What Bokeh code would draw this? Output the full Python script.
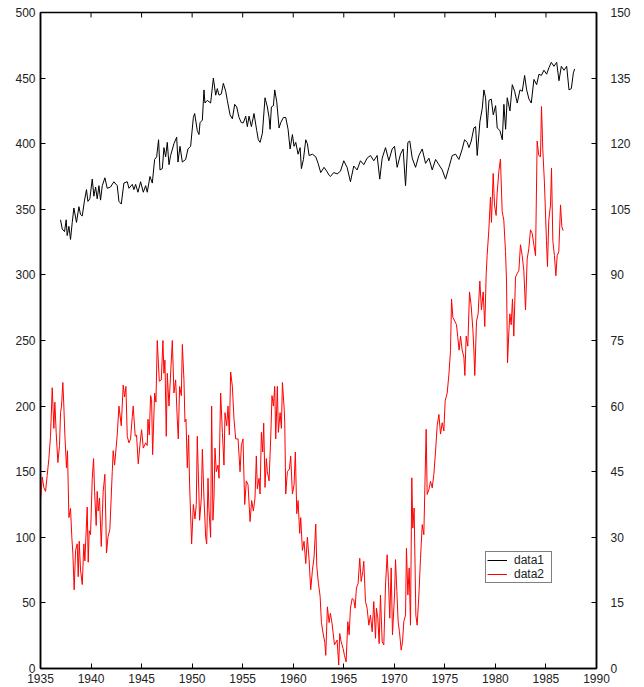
import math
from bokeh.plotting import figure
from bokeh.models import Range1d, LinearAxis, FixedTicker, Legend, LegendItem
from bokeh.embed import file_html
from bokeh.resources import INLINE

# ---- data ----
x_ticks = [1935, 1940, 1945, 1950, 1955, 1960, 1965, 1970, 1975, 1980, 1985, 1990]
left_ticks = [0, 50, 100, 150, 200, 250, 300, 350, 400, 450, 500]
right_ticks = [0, 15, 30, 45, 60, 75, 90, 105, 120, 135, 150]

data1_years = [
    1936.98, 1937.15, 1937.38, 1937.54, 1937.64, 1937.81, 1937.97, 1938.14, 1938.30, 1938.56,
    1938.80, 1938.96, 1939.13, 1939.36, 1939.55, 1939.69, 1939.88, 1940.12, 1940.28, 1940.45,
    1940.61, 1940.78, 1940.94, 1941.11, 1941.37, 1941.60, 1941.93, 1942.26, 1942.59, 1942.76,
    1942.99, 1943.25, 1943.58, 1943.75, 1944.08, 1944.24, 1944.41, 1944.64, 1944.90, 1945.17,
    1945.40, 1945.56, 1945.83, 1946.06, 1946.29, 1946.49, 1946.68, 1946.82, 1947.05, 1947.21,
    1947.38, 1947.54, 1947.71, 1947.87, 1948.20, 1948.47, 1948.60, 1948.80, 1949.03, 1949.36,
    1949.59, 1949.85, 1950.12, 1950.25, 1950.51, 1950.68, 1950.78, 1951.01, 1951.17, 1951.27,
    1951.50, 1951.83, 1952.10, 1952.33, 1952.49, 1952.66, 1952.89, 1953.09, 1953.32, 1953.48,
    1953.75, 1953.98, 1954.21, 1954.41, 1954.64, 1954.87, 1955.07, 1955.30, 1955.46, 1955.63,
    1955.86, 1956.12, 1956.39, 1956.55, 1956.72, 1956.95, 1957.21, 1957.44, 1957.61, 1957.71,
    1957.84, 1958.04, 1958.17, 1958.37, 1958.60, 1958.76, 1959.03, 1959.26, 1959.49, 1959.69,
    1959.92, 1960.08, 1960.25, 1960.48, 1960.68, 1960.81, 1961.01, 1961.24, 1961.40, 1961.57,
    1961.90, 1962.23, 1962.46, 1962.72, 1963.05, 1963.32, 1963.55, 1963.68, 1964.01, 1964.34,
    1964.67, 1965.00, 1965.33, 1965.66, 1965.99, 1966.32, 1966.65, 1966.98, 1967.31, 1967.64,
    1967.97, 1968.30, 1968.56, 1968.80, 1969.13, 1969.46, 1969.79, 1970.02, 1970.28, 1970.61,
    1970.87, 1971.11, 1971.34, 1971.53, 1971.77, 1972.10, 1972.43, 1972.76, 1973.09, 1973.42,
    1973.75, 1974.08, 1974.41, 1974.74, 1975.07, 1975.40, 1975.73, 1976.06, 1976.39, 1976.72,
    1976.95, 1977.21, 1977.38, 1977.61, 1977.87, 1978.04, 1978.20, 1978.47, 1978.70, 1978.86,
    1979.03, 1979.19, 1979.36, 1979.59, 1979.79, 1980.02, 1980.18, 1980.45, 1980.68, 1980.84,
    1981.01, 1981.17, 1981.44, 1981.67, 1981.90, 1982.16, 1982.43, 1982.66, 1982.89, 1983.09,
    1983.32, 1983.55, 1983.81, 1984.08, 1984.31, 1984.54, 1984.80, 1985.07, 1985.30, 1985.53,
    1985.79, 1986.06, 1986.29, 1986.52, 1986.78, 1987.05, 1987.28, 1987.51, 1987.71, 1987.84,
]
data1_values = [
    342, 335, 333, 342, 330, 337, 327, 340, 351, 340,
    352, 346, 345, 357, 365, 356, 358, 373, 360, 367,
    358, 368, 357, 368, 374, 366, 367, 371, 368, 356,
    354, 370, 371, 366, 369, 365, 369, 363, 371, 363,
    368, 363, 375, 370, 388, 390, 403, 380, 381, 397,
    390, 401, 384, 391, 400, 405, 386, 398, 386, 388,
    396, 398, 420, 423, 410, 407, 416, 418, 441, 431,
    433, 431, 450, 437, 442, 437, 438, 446, 440, 433,
    422, 419, 430, 428, 420, 416, 416, 421, 413, 421,
    413, 423, 410, 403, 401, 408, 435, 428, 420, 411,
    428, 429, 441, 432, 412, 416, 420, 420, 411, 396,
    407, 398, 401, 392, 397, 381, 388, 403, 400, 391,
    392, 390, 385, 378, 382, 379, 376, 375, 378, 377,
    379, 387, 382, 371, 383, 380, 387, 384, 389, 391,
    387, 391, 373, 389, 397, 387, 396, 398, 382, 392,
    396, 368, 401, 402, 389, 382, 391, 396, 385, 389,
    380, 388, 384, 380, 373, 382, 391, 392, 388, 396,
    403, 401, 397, 402, 412, 413, 391, 417, 427, 441,
    435, 412, 433, 434, 422, 429, 412, 410, 403, 430,
    411, 435, 425, 445, 440, 431, 441, 440, 452, 441,
    434, 431, 449, 445, 453, 452, 456, 453, 458, 462,
    459, 462, 448, 459, 456, 459, 441, 442, 454, 457,
]

data2_years = [
    1935.00, 1935.17, 1935.33, 1935.50, 1935.66, 1935.83, 1935.99, 1936.16, 1936.32, 1936.42,
    1936.55, 1936.72, 1936.88, 1936.98, 1937.08, 1937.21, 1937.31, 1937.41, 1937.57, 1937.67,
    1937.74, 1937.81, 1937.97, 1938.10, 1938.20, 1938.33, 1938.47, 1938.63, 1938.73, 1938.83,
    1938.96, 1939.13, 1939.29, 1939.39, 1939.49, 1939.62, 1939.72, 1939.82, 1939.95, 1940.12,
    1940.25, 1940.35, 1940.51, 1940.61, 1940.71, 1940.84, 1941.01, 1941.20, 1941.37, 1941.53,
    1941.67, 1941.86, 1942.10, 1942.19, 1942.33, 1942.59, 1942.76, 1942.99, 1943.18, 1943.32,
    1943.45, 1943.58, 1943.75, 1943.91, 1944.08, 1944.17, 1944.37, 1944.50, 1944.67, 1944.83,
    1945.00, 1945.17, 1945.40, 1945.56, 1945.63, 1945.76, 1945.89, 1945.99, 1946.09, 1946.29,
    1946.42, 1946.55, 1946.75, 1946.95, 1947.11, 1947.21, 1947.31, 1947.44, 1947.54, 1947.71,
    1948.04, 1948.20, 1948.37, 1948.53, 1948.63, 1948.76, 1948.93, 1949.03, 1949.19, 1949.29,
    1949.39, 1949.52, 1949.65, 1949.75, 1949.95, 1950.12, 1950.28, 1950.41, 1950.51, 1950.74,
    1950.91, 1951.01, 1951.17, 1951.34, 1951.44, 1951.57, 1951.67, 1951.83, 1951.93, 1952.06,
    1952.16, 1952.26, 1952.39, 1952.56, 1952.66, 1952.82, 1952.99, 1953.15, 1953.25, 1953.42,
    1953.55, 1953.68, 1953.81, 1953.98, 1954.14, 1954.31, 1954.54, 1954.74, 1954.87, 1955.03,
    1955.20, 1955.36, 1955.53, 1955.73, 1955.89, 1956.06, 1956.22, 1956.35, 1956.45, 1956.62,
    1956.72, 1956.85, 1956.98, 1957.08, 1957.21, 1957.34, 1957.44, 1957.61, 1957.77, 1957.90,
    1958.04, 1958.17, 1958.27, 1958.43, 1958.53, 1958.70, 1958.83, 1958.93, 1959.09, 1959.16,
    1959.26, 1959.42, 1959.62, 1959.75, 1959.92, 1960.08, 1960.21, 1960.35, 1960.48, 1960.64,
    1960.74, 1960.91, 1961.07, 1961.24, 1961.40, 1961.57, 1961.73, 1961.90, 1962.06, 1962.23,
    1962.33, 1962.49, 1962.66, 1962.79, 1962.95, 1963.12, 1963.22, 1963.38, 1963.55, 1963.68,
    1963.84, 1964.08, 1964.34, 1964.50, 1964.60, 1964.74, 1964.93, 1965.07, 1965.23, 1965.40,
    1965.53, 1965.66, 1965.83, 1965.99, 1966.12, 1966.25, 1966.42, 1966.58, 1966.72, 1966.88,
    1966.98, 1967.15, 1967.31, 1967.48, 1967.64, 1967.81, 1967.97, 1968.14, 1968.23, 1968.37,
    1968.50, 1968.63, 1968.80, 1968.96, 1969.13, 1969.29, 1969.42, 1969.55, 1969.69, 1969.82,
    1970.02, 1970.12, 1970.25, 1970.38, 1970.51, 1970.68, 1970.81, 1970.94, 1971.11, 1971.20,
    1971.34, 1971.47, 1971.60, 1971.73, 1971.83, 1971.96, 1972.13, 1972.26, 1972.43, 1972.59,
    1972.76, 1972.92, 1973.15, 1973.25, 1973.42, 1973.58, 1973.75, 1973.91, 1974.08, 1974.24,
    1974.41, 1974.57, 1974.74, 1974.90, 1975.03, 1975.23, 1975.40, 1975.56, 1975.66, 1975.79,
    1975.99, 1976.15, 1976.28, 1976.41, 1976.55, 1976.71, 1976.88, 1976.98, 1977.11, 1977.27,
    1977.44, 1977.60, 1977.77, 1977.87, 1977.96, 1978.13, 1978.29, 1978.46, 1978.62, 1978.79,
    1978.95, 1979.09, 1979.18, 1979.35, 1979.51, 1979.61, 1979.78, 1979.91, 1980.07, 1980.17,
    1980.34, 1980.50, 1980.67, 1980.83, 1981.00, 1981.10, 1981.20, 1981.33, 1981.43, 1981.56,
    1981.69, 1981.82, 1981.99, 1982.15, 1982.32, 1982.48, 1982.65, 1982.81, 1982.98, 1983.14,
    1983.31, 1983.47, 1983.64, 1983.80, 1983.97, 1984.13, 1984.29, 1984.46, 1984.56, 1984.69,
    1984.85, 1985.05, 1985.15, 1985.28, 1985.45, 1985.55, 1985.68, 1985.84, 1985.98, 1986.11,
    1986.27, 1986.44, 1986.57, 1986.70,
]
data2_values = [
    38.4, 43.8, 41.4, 40.5, 44.1, 48.0, 53.1, 64.2, 54.9, 60.9,
    54.0, 47.1, 51.0, 58.5, 60.0, 65.4, 60.0, 53.4, 45.9, 49.8,
    42.0, 34.5, 36.6, 30.0, 26.4, 18.0, 27.0, 28.5, 21.0, 29.1,
    22.5, 19.2, 28.5, 24.6, 30.0, 36.9, 24.3, 31.5, 30.6, 43.5,
    48.0, 40.5, 32.7, 40.5, 36.0, 39.0, 27.9, 40.5, 44.4, 26.4,
    30.0, 31.8, 45.0, 49.8, 46.5, 53.4, 60.0, 55.5, 64.8, 62.1,
    64.5, 53.1, 51.6, 52.5, 57.6, 60.0, 53.1, 53.4, 46.8, 51.0,
    54.6, 50.4, 51.6, 51.0, 57.0, 53.4, 62.4, 61.5, 48.9, 63.0,
    60.9, 75.0, 65.7, 66.0, 75.0, 67.5, 70.5, 53.1, 67.5, 60.0,
    75.0, 63.0, 66.0, 57.0, 52.5, 64.5, 62.4, 74.1, 66.0, 56.4,
    57.0, 45.9, 53.4, 42.0, 28.5, 37.5, 34.2, 37.5, 53.1, 33.9,
    39.0, 50.1, 39.0, 30.0, 28.5, 43.5, 36.0, 30.0, 60.0, 33.9,
    39.0, 50.4, 45.0, 46.5, 43.5, 63.0, 54.0, 46.5, 58.5, 55.5,
    60.0, 53.4, 67.8, 64.5, 57.0, 52.5, 52.5, 45.0, 51.0, 52.5,
    37.5, 42.9, 42.0, 33.6, 38.4, 36.0, 39.0, 48.6, 41.1, 43.5,
    39.9, 54.0, 49.5, 56.1, 41.4, 48.0, 45.0, 42.9, 52.5, 62.4,
    60.0, 64.5, 52.5, 64.5, 54.0, 58.5, 54.9, 65.4, 60.0, 56.4,
    39.9, 45.0, 45.6, 48.6, 39.9, 42.0, 49.5, 35.4, 38.4, 30.9,
    34.5, 27.0, 29.1, 24.0, 30.0, 24.9, 18.0, 22.5, 25.5, 33.0,
    23.4, 19.5, 16.5, 10.5, 8.1, 6.0, 3.0, 14.1, 10.5, 12.6,
    10.3, 5.4, 6.5, 0.8, 8.0, 6.1, 4.6, 3.0, 1.5, 10.7,
    7.7, 13.8, 16.0, 15.7, 13.8, 18.4, 19.5, 25.2, 19.9, 22.2,
    24.5, 15.3, 13.8, 9.9, 12.2, 8.4, 15.3, 6.9, 13.8, 11.5,
    5.7, 16.8, 6.1, 5.4, 19.1, 26.0, 19.9, 11.5, 23.0, 7.7,
    16.8, 24.9, 17.6, 10.7, 8.4, 4.2, 6.1, 10.7, 12.2, 27.5,
    16.8, 23.0, 9.9, 43.6, 32.1, 36.7, 12.2, 9.9, 16.8, 25.2,
    32.9, 30.6, 54.7, 39.8, 40.9, 42.8, 41.3, 44.4, 49.7, 55.5,
    58.1, 53.6, 56.2, 54.3, 61.2, 63.0, 67.3, 72.7, 84.5, 80.3,
    79.4, 78.6, 75.7, 72.8, 76.0, 72.8, 71.2, 67.0, 76.0, 73.7,
    86.1, 83.0, 77.5, 72.8, 67.0, 79.4, 81.1, 88.6, 82.0, 86.1,
    78.2, 90.3, 94.4, 100.3, 107.8, 102.0, 113.2, 106.0, 103.6, 108.6,
    113.7, 116.5, 104.5, 102.5, 95.3, 88.6, 69.9, 77.0, 81.1, 78.6,
    84.5, 76.0, 89.5, 90.3, 91.0, 96.9, 94.4, 91.0, 82.0, 93.6,
    96.1, 100.3, 99.5, 96.9, 94.4, 120.6, 117.3, 117.0, 128.5, 118.6,
    111.0, 97.8, 91.9, 102.5, 106.0, 114.4, 97.8, 94.4, 89.8, 94.4,
    95.3, 106.0, 101.1, 100.1,
]

FONT = "Liberation Sans"
TXT = "#222222"
Y_MIN, Y_MAX = 0, 500

p = figure(width=636, height=687,
           x_range=Range1d(1935, 1990), y_range=Range1d(Y_MIN, Y_MAX),
           output_backend="svg", toolbar_location=None,
           x_axis_location=None, y_axis_location=None,
           min_border_left=40, min_border_right=40,
           min_border_top=12, min_border_bottom=19)
p.extra_y_ranges = {"right": Range1d(0, 150)}
p.grid.visible = False
p.outline_line_color = "#000000"
p.outline_line_width = 1.5
p.background_fill_color = "white"
p.border_fill_color = "white"


def style_axis(ax):
    ax.axis_line_color = "#000000"
    ax.axis_line_width = 1.5
    ax.major_tick_line_color = "#000000"
    ax.major_tick_line_width = 1
    ax.major_tick_in = 5
    ax.major_tick_out = 0
    ax.minor_tick_line_color = None
    ax.major_label_text_font = FONT
    ax.major_label_text_font_size = "12px"
    ax.major_label_text_color = TXT


xb = LinearAxis(ticker=FixedTicker(ticks=x_ticks))
style_axis(xb)
xb.major_label_standoff = 5
p.add_layout(xb, "below")

yl = LinearAxis(ticker=FixedTicker(ticks=left_ticks))
style_axis(yl)
yl.major_label_standoff = 5
p.add_layout(yl, "left")

yr = LinearAxis(y_range_name="right", ticker=FixedTicker(ticks=right_ticks))
style_axis(yr)
yr.major_label_standoff = 14
p.add_layout(yr, "right")

# inward tick marks along the top edge of the box (clipped to the frame)
p.scatter(x_ticks, [Y_MAX] * len(x_ticks), marker="dash", angle=math.pi / 2,
          size=10, line_color="#000000", line_width=1)

r1 = p.line(data1_years, data1_values, line_color="#000000", line_width=1)
r2 = p.line(data2_years, data2_values, line_color="#ff0000", line_width=1,
            y_range_name="right")

legend = Legend(items=[LegendItem(label="data1", renderers=[r1]),
                       LegendItem(label="data2", renderers=[r2])],
                location=(445, 85))
legend.label_text_font = FONT
legend.label_text_font_size = "12px"
legend.label_text_color = TXT
legend.glyph_width = 20
legend.glyph_height = 10
legend.label_height = 10
legend.label_width = 36
legend.label_standoff = 7
legend.padding = 1
legend.spacing = 0
legend.margin = 0
legend.border_line_color = "#000000"
legend.border_line_width = 1
legend.background_fill_color = "white"
legend.background_fill_alpha = 1
p.add_layout(legend, "center")

open("out.html", "w").write(file_html(p, INLINE))
